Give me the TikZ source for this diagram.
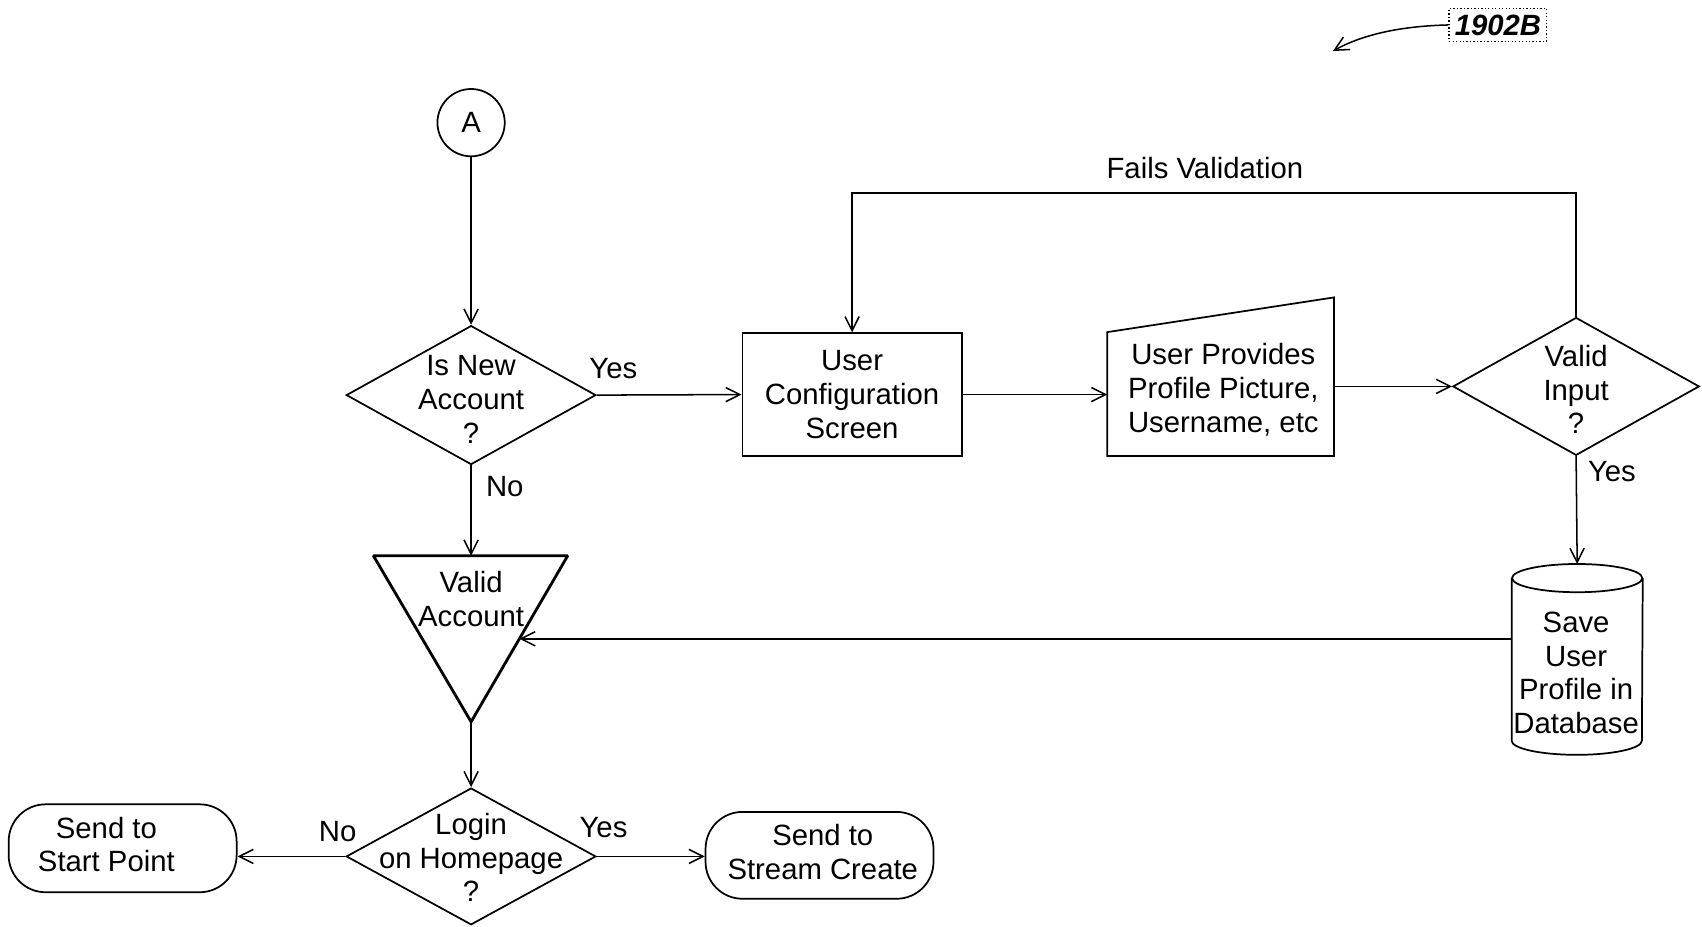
\documentclass[tikz,border=0pt]{standalone}
\usepackage{fontspec}
\setmainfont{Liberation Sans}
\usetikzlibrary{arrows.meta,calc,shapes.geometric}
\begin{document}
\begin{tikzpicture}[x=0.5pt,y=-0.5pt,
  every node/.style={font=\fontsize{13.5}{15.5}\selectfont, align=center, inner sep=0pt},
  arr/.style={-{Straight Barb[length=6.5pt,width=6.5pt]}, line width=0.7pt},
  shp/.style={draw, line width=0.8pt},
  lbl/.style={font=\fontsize{13.5}{15.5}\selectfont},
  term/.style={shp, rounded corners=17pt},
]
\useasboundingbox (0,0) rectangle (1568,854);

% reference label
\node[draw, densely dotted, line width=0.6pt, minimum width=45pt, minimum height=15pt,
      font=\fontsize{13.5}{15.5}\selectfont\bfseries\itshape] (ref) at (1380,23) {1902B};
\coordinate (refend) at (1228,47);
\draw[arr] (ref.west) .. controls (1290,24) and (1255,32) .. (refend);

% start connector
\node[shp, circle, minimum size=31pt] (A) at (434,113) {A};

% decision 1
\node[shp, diamond, minimum width=115pt, minimum height=64pt] (d1) at (434,364) {};
\node (d1t) at (434,368) {Is New\\Account\\?};

% configuration box
\node[shp, minimum width=101pt, minimum height=56.5pt] (cfg) at (785,363.5) {User\\Configuration\\Screen};

% manual input trapezoid
\coordinate (tBL) at (1020,420);
\coordinate (tBR) at (1229,420);
\coordinate (tTR) at (1229,274);
\coordinate (tTL) at (1020,306);
\draw[shp] (tBL) -- (tBR) -- (tTR) -- (tTL) -- cycle;
\node (trap) at (1127,359) {User Provides\\Profile Picture,\\Username, etc};

% decision 2
\node[shp, diamond, minimum width=113.5pt, minimum height=63.5pt] (d2) at (1452,356) {};
\node (d2t) at (1452,359) {Valid\\Input\\?};

% database cylinder
\node[minimum width=60pt, minimum height=87.5pt] (cyl) at (1453,607.5) {};
\draw[shp] ($(cyl.north west)+(0,13)$) -- ($(cyl.south west)+(0,-13)$)
  arc[start angle=180, end angle=360, x radius=30pt, y radius=6.5pt]
  -- ($(cyl.north east)+(0,13)$);
\draw[shp] ($(cyl.north)+(0,13)$) ellipse[x radius=30pt, y radius=6.5pt];
\node (cylt) at (1452,620) {Save\\User\\Profile in\\Database};

% inverted triangle
\coordinate (t1) at (344,512);
\coordinate (t2) at (523,512);
\coordinate (t3) at (434,665);
\coordinate (ttop) at (434,512);
\coordinate (tm) at ($(t2)!0.5!(t3)$);
\draw[line width=1.3pt, line join=bevel] (t1) -- (t2) -- (t3) -- cycle;
\node (trit) at (434,552) {Valid\\Account};

% decision 3
\node[shp, diamond, minimum width=115pt, minimum height=63pt] (d3) at (434,789) {};
\node (d3t) at (434,790) {Login\\on Homepage\\?};

% terminals
\node[term, minimum width=105pt, minimum height=40.5pt] (s1) at (113,781.5) {};
\node (s1t) at (98,778) {Send to\\Start Point};
\node[term, minimum width=105pt, minimum height=40pt] (s2) at (755,788) {};
\node (s2t) at (758,785) {Send to\\Stream Create};

% connectors
\draw[arr] (A.south) -- (d1.north);
\draw[arr] (d1.east) -- (cfg.west);
\draw[arr] (cfg.east) -- (cfg.east -| tBL);
\draw[arr] (d2.west -| tBR) -- (d2.west);
\draw[arr] (d2.north) -- ++(0,-114) -| (cfg.north);
\draw[arr] (d2.south) -- (cyl.north);
\draw[arr] (d1.south) -- (ttop);
\draw[arr] (tm -| cyl.west) -- (tm);
\draw[arr] (t3) -- (d3.north);
\draw[arr] (d3.west) -- (d3.west -| s1.east);
\draw[arr] (d3.east) -- (d3.east -| s2.west);

% edge labels
\node[lbl] (yes1) at (565,340) {Yes};
\node[lbl] (no1) at (465,448) {No};
\node[lbl] (fails) at (1110,155) {Fails Validation};
\node[lbl] (yes2) at (1485,434) {Yes};
\node[lbl] (no3) at (311,766) {No};
\node[lbl] (yes3) at (556,762) {Yes};
\end{tikzpicture}
\end{document}
